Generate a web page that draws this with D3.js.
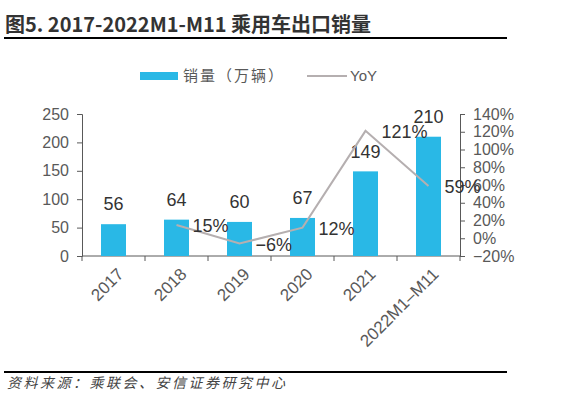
<!DOCTYPE html>
<html>
<head>
<meta charset="utf-8">
<script src="https://cdn.jsdelivr.net/npm/d3@7"></script>
<style>
  body { margin: 0; background: #fff; }
  svg { display: block; font-family: "Liberation Sans", Arial, sans-serif; }
</style>
</head>
<body>
<svg id="chart" width="562" height="396"></svg>
<script>
// data
let categories = ["2017", "2018", "2019", "2020", "2021", "2022M1–M11"]
let sales = [56, 64, 60, 67, 149, 210]
let yoy = [null, 15, -6, 12, 121, 59]
let leftTicks = [0, 50, 100, 150, 200, 250]
let rightTicks = [-20, 0, 20, 40, 60, 80, 100, 120, 140]

let svg = d3.select("#chart")
let cjk = "'Noto Sans CJK SC', sans-serif"

//title
svg.append("text")
    .attr("x", 5).attr("y", 32)
    .style("font-family", cjk)
    .style("font-weight", "bold")
    .style("font-size", "20px")
    .style("fill", "#333")
    .text("图5. 2017-2022M1-M11 乘用车出口销量")
svg.append("line")
    .attr("x1", 4).attr("x2", 507).attr("y1", 38).attr("y2", 38)
    .style("stroke", "#000").style("stroke-width", 2)

//plot area
let plotLeft = 82, plotRight = 460, plotTop = 114, plotBottom = 256

let x = d3.scaleBand().domain(categories).range([plotLeft, plotRight]).paddingInner(0).paddingOuter(0)
let yL = d3.scaleLinear().domain([0, 250]).range([plotBottom, plotTop])
let yR = d3.scaleLinear().domain([-20, 140]).range([plotBottom, plotTop])

let axisColor = "#595959"

//left axis
let gl = svg.append("g").attr("transform", "translate(" + plotLeft + ",0)")
    .call(d3.axisLeft(yL).tickValues(leftTicks).tickSize(5).tickPadding(8))
gl.selectAll("text").style("font-size", "16px").style("fill", axisColor)

//right axis
let gr = svg.append("g").attr("transform", "translate(" + plotRight + ",0)")
    .call(d3.axisRight(yR).tickValues(rightTicks).tickSize(5).tickPadding(8)
        .tickFormat(d => (d < 0 ? "−" + (-d) : d) + "%"))
gr.selectAll("text").style("font-size", "16px").style("fill", axisColor)

//x axis
let gx = svg.append("g").attr("transform", "translate(0," + plotBottom + ")")
gx.append("line")
    .attr("x1", plotLeft).attr("x2", plotRight)
gx.selectAll(".tk")
    .data(d3.range(categories.length + 1))
    .join("line")
    .attr("x1", i => plotLeft + i * x.bandwidth())
    .attr("x2", i => plotLeft + i * x.bandwidth())
    .attr("y1", 0).attr("y2", 5)
svg.selectAll("g .domain, g line").style("stroke", axisColor)

gx.selectAll(".xl")
    .data(categories)
    .join("text")
    .attr("transform", d => "translate(" + (x(d) + x.bandwidth() / 2 + 7) + ",15) rotate(-45)")
    .attr("text-anchor", "end")
    .attr("dy", "0.35em")
    .style("font-size", "17px")
    .style("fill", axisColor)
    .text(d => d)

//bars
let barW = 25
let barColor = "#29B8E6"
svg.append("g").selectAll("rect")
    .data(sales)
    .join("rect")
    .attr("x", (d, i) => x(categories[i]) + x.bandwidth() / 2 - barW / 2)
    .attr("y", d => yL(d))
    .attr("width", barW)
    .attr("height", d => plotBottom - yL(d))
    .style("fill", barColor)

svg.append("g").selectAll("text")
    .data(sales)
    .join("text")
    .attr("x", (d, i) => x(categories[i]) + x.bandwidth() / 2)
    .attr("y", d => yL(d) - 20)
    .attr("dy", "0.35em")
    .attr("text-anchor", "middle")
    .style("font-size", "18px")
    .style("fill", "#333")
    .text(d => d)

//yoy line
let yoyPts = yoy.map((d, i) => [categories[i], d]).filter(p => p[1] !== null)
let lineGen = d3.line()
    .x(p => x(p[0]) + x.bandwidth() / 2)
    .y(p => yR(p[1]))
svg.append("path")
    .datum(yoyPts)
    .attr("d", lineGen)
    .style("fill", "none")
    .style("stroke", "#B5AFB0")
    .style("stroke-width", 2)

svg.append("g").selectAll("text")
    .data(yoyPts)
    .join("text")
    .attr("x", p => x(p[0]) + x.bandwidth() / 2 + 16)
    .attr("y", p => yR(p[1]) + 1)
    .attr("dy", "0.35em")
    .style("font-size", "18px")
    .style("fill", "#333")
    .text(p => (p[1] < 0 ? "−" + (-p[1]) : p[1]) + "%")

//legend
let lg = svg.append("g")
lg.append("rect").attr("x", 140).attr("y", 72).attr("width", 38).attr("height", 8).style("fill", barColor)
lg.append("text").attr("x", 183).attr("y", 76).attr("dy", "0.35em")
    .style("font-family", cjk).style("font-size", "15px").style("fill", axisColor)
    .style("letter-spacing", "2px")
    .text("销量（万辆）")
lg.append("line").attr("x1", 307).attr("x2", 347).attr("y1", 76).attr("y2", 76)
    .style("stroke", "#B5AFB0").style("stroke-width", 2)
lg.append("text").attr("x", 350).attr("y", 76).attr("dy", "0.35em")
    .style("font-size", "15px").style("fill", axisColor)
    .text("YoY")

//footer
svg.append("line")
    .attr("x1", 4).attr("x2", 507).attr("y1", 372).attr("y2", 372)
    .style("stroke", "#000").style("stroke-width", 2)
svg.append("text")
    .attr("x", 7).attr("y", 383).attr("dy", "0.35em")
    .style("font-family", cjk)
    .style("font-style", "italic")
    .style("font-size", "14px")
    .style("letter-spacing", "2.5px")
    .style("fill", "#444")
    .text("资料来源：乘联会、安信证券研究中心")
</script>
</body>
</html>
